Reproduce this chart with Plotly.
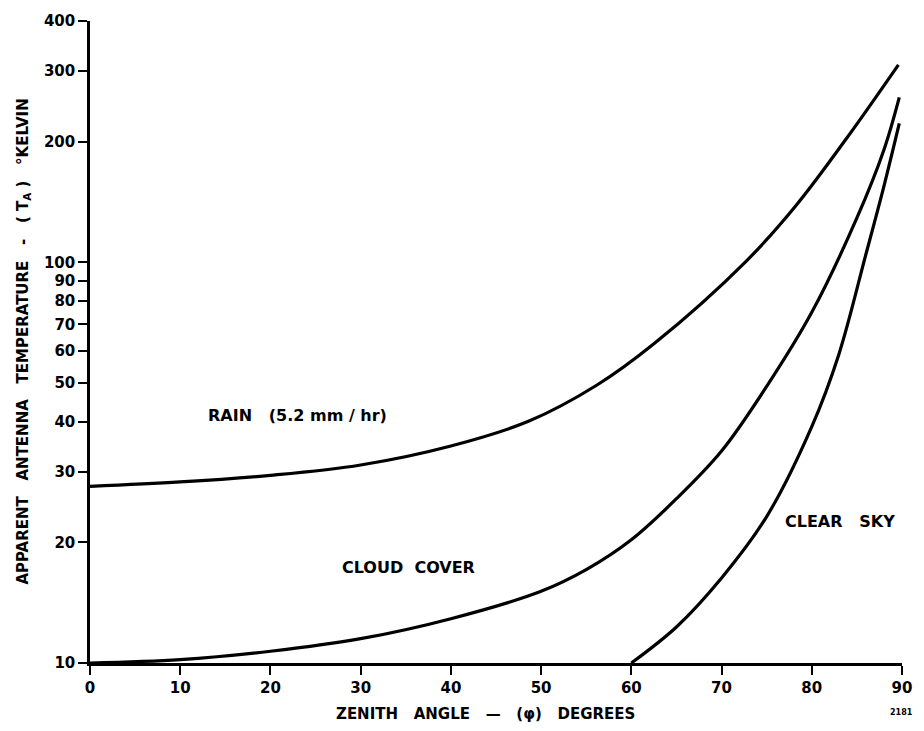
import numpy as np
import plotly.graph_objects as go

# Data
rain_x = [0, 10, 20, 30, 40, 48.6, 56.2, 62.5, 72.8, 78.3, 83.8, 89.6]
rain_y = [27.6, 28.3, 29.4, 31.2, 34.8, 40.1, 49.4, 62.6, 101, 139, 203, 311]

cloud_x = [0, 10, 20, 30, 40, 50, 55, 60, 65, 70, 75, 80, 85, 88, 89.7]
cloud_y = [10.0, 10.2, 10.7, 11.5, 12.9, 15.1, 17.1, 20.3, 25.7, 33.8, 49.0, 75, 129, 191, 258]

clear_x = [60, 65, 70, 75, 80, 83, 86, 88, 89.7]
clear_y = [10, 12.3, 16.3, 23.2, 38.9, 58.9, 104.7, 154.9, 222]

x_ticks = [0, 10, 20, 30, 40, 50, 60, 70, 80, 90]
y_ticks = [10, 20, 30, 40, 50, 60, 70, 80, 90, 100, 200, 300, 400]

FONT = "DejaVu Sans"
line_style = dict(color="black", width=3.2, shape="spline", smoothing=1.0)

fig = go.Figure()
for xs, ys, name in [(rain_x, rain_y, "RAIN"), (cloud_x, cloud_y, "CLOUD COVER"),
                     (clear_x, clear_y, "CLEAR SKY")]:
    fig.add_trace(go.Scatter(x=xs, y=ys, mode="lines", line=line_style,
                             name=name, showlegend=False, hoverinfo="x+y"))

label_font = dict(family=FONT, size=16, color="black", weight="bold")
fig.add_annotation(x=12.86, y=np.log10(41.4), xref="x", yref="y",
                   text="RAIN   (5.2 mm / hr)", showarrow=False, xanchor="left",
                   yanchor="middle", font=label_font)
fig.add_annotation(x=27.76, y=np.log10(17.3), xref="x", yref="y",
                   text="CLOUD  COVER", showarrow=False, xanchor="left",
                   yanchor="middle", font=label_font)
fig.add_annotation(x=76.8, y=np.log10(22.5), xref="x", yref="y",
                   text="CLEAR   SKY", showarrow=False, xanchor="left",
                   yanchor="middle", font=label_font)

title_font = dict(family=FONT, size=15, color="black", weight="bold")
fig.add_annotation(x=0.487, y=-0.080, xref="paper", yref="paper",
                   text="ZENITH   ANGLE   \u2014   (\u03c6)   DEGREES", showarrow=False,
                   xanchor="center", yanchor="middle", font=title_font)
fig.add_annotation(x=-0.083, y=0.5, xref="paper", yref="paper", textangle=-90,
                   text="APPARENT   ANTENNA   TEMPERATURE   -   ( T<sub>A</sub> )   \u00b0KELVIN",
                   showarrow=False, xanchor="center", yanchor="middle", font=title_font)
fig.add_annotation(x=0.999, y=-0.077, xref="paper", yref="paper", text="2181",
                   showarrow=False, xanchor="center", yanchor="middle",
                   font=dict(family=FONT, size=8, color="black", weight="bold"))

fig.update_xaxes(range=[0, 90], tickvals=x_ticks, ticktext=[str(v) for v in x_ticks],
                 showline=True, linecolor="black", linewidth=2.5, ticks="outside",
                 ticklen=9, tickwidth=2, tickcolor="black", showgrid=False, zeroline=False,
                 tickfont=dict(family=FONT, size=15, color="black", weight="bold"))
fig.update_yaxes(type="log", range=[1, np.log10(400)], tickvals=y_ticks,
                 ticktext=[str(v) for v in y_ticks],
                 showline=True, linecolor="black", linewidth=2.5, ticks="outside",
                 ticklen=9, tickwidth=2, tickcolor="black", showgrid=False, zeroline=False,
                 tickfont=dict(family=FONT, size=15, color="black", weight="bold"))

fig.update_layout(width=924, height=731, margin=dict(l=90, r=18, t=14, b=68),
                  paper_bgcolor="white", plot_bgcolor="white")

fig.write_html("out.html")
